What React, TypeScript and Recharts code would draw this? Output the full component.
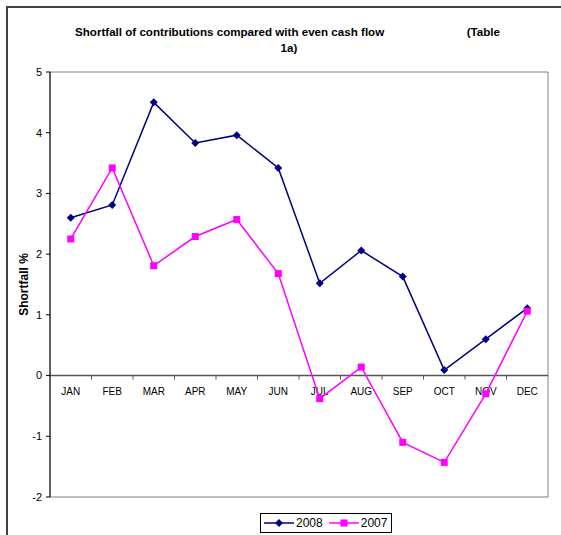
import { LineChart, Line, XAxis, YAxis, ReferenceLine, ReferenceArea } from 'recharts';

const months = ['JAN', 'FEB', 'MAR', 'APR', 'MAY', 'JUN', 'JUL', 'AUG', 'SEP', 'OCT', 'NOV', 'DEC'];
const shortfall2008 = [2.6, 2.81, 4.5, 3.83, 3.96, 3.42, 1.52, 2.06, 1.63, 0.09, 0.6, 1.11];
const shortfall2007 = [2.25, 3.42, 1.81, 2.29, 2.57, 1.68, -0.38, 0.14, -1.1, -1.43, -0.3, 1.06];
const yTicks = [-2, -1, 0, 1, 2, 3, 4, 5];

const FONT = '"Liberation Sans", Arial, sans-serif';
const NAVY = '#000080';
const MAGENTA = '#FF00FF';

const data = months.map((m, i) => ({
  month: m,
  y2008: shortfall2008[i],
  y2007: shortfall2007[i],
}));

function Diamond(props: any) {
  const { cx, cy } = props;
  if (cx == null || cy == null) return null;
  return (
    <path
      key={props.key ?? `d-${cx}`}
      d={`M${cx},${cy - 4}L${cx + 4},${cy}L${cx},${cy + 4}L${cx - 4},${cy}Z`}
      fill={NAVY}
    />
  );
}

function Square(props: any) {
  const { cx, cy } = props;
  if (cx == null || cy == null) return null;
  return <rect key={props.key ?? `s-${cx}`} x={cx - 3.5} y={cy - 3.5} width={7} height={7} fill={MAGENTA} />;
}

// zero line with the category ticks and month labels hanging under it
function ZeroAxis(props: any) {
  const { x1, x2, y1 } = props;
  const band = (x2 - x1) / months.length;
  return (
    <g>
      <line x1={x1} x2={x2} y1={y1} y2={y1} stroke="#555" strokeWidth={1.5} />
      {months.map((m, i) => (
        <g key={m}>
          {i > 0 && <line x1={x1 + i * band} x2={x1 + i * band} y1={y1} y2={y1 + 4} stroke="#555" />}
          <text
            x={x1 + (i + 0.5) * band}
            y={y1 + 16}
            dy="0.35em"
            textAnchor="middle"
            fontSize={10}
            fontFamily={FONT}
            fill="#000"
          >
            {m}
          </text>
        </g>
      ))}
    </g>
  );
}

function YLabel(props: any) {
  const { viewBox } = props;
  const x = viewBox.x + 4;
  const y = viewBox.y + viewBox.height / 2;
  return (
    <text
      x={x}
      y={y}
      transform={`rotate(-90, ${x}, ${y})`}
      textAnchor="middle"
      dominantBaseline="central"
      fontSize={12}
      fontWeight="bold"
      fontFamily={FONT}
      fill="#000"
    >
      Shortfall %
    </text>
  );
}

export default function App() {
  return (
    <div style={{ position: 'absolute', left: 0, top: 0, width: 561, height: 535, background: '#fff' }}>
      <div style={{ position: 'absolute', left: 0, top: 0 }}>
        <LineChart width={561} height={535} data={data} margin={{ top: 72, right: 13, bottom: 38, left: 20 }}>
          <ReferenceArea y1={-2} y2={5} stroke="#808080" fill="none" ifOverflow="visible" />
          <XAxis dataKey="month" scale="band" hide />
          <YAxis
            domain={[-2, 5]}
            ticks={yTicks}
            width={30}
            interval={0}
            axisLine={{ stroke: '#000' }}
            tickLine={{ stroke: '#000' }}
            tickSize={4}
            tickMargin={4}
            tick={{ fontSize: 11, fontFamily: FONT, fill: '#000' }}
            label={<YLabel />}
          />
          <ReferenceLine y={0} shape={<ZeroAxis />} />
          <Line
            dataKey="y2008"
            stroke={NAVY}
            strokeWidth={1.5}
            dot={<Diamond />}
            activeDot={false}
            isAnimationActive={false}
          />
          <Line
            dataKey="y2007"
            stroke={MAGENTA}
            strokeWidth={1.5}
            dot={<Square />}
            activeDot={false}
            isAnimationActive={false}
          />
        </LineChart>
      </div>
      <div
        style={{
          position: 'absolute',
          left: 6,
          top: 6,
          width: 555,
          height: 529,
          boxSizing: 'border-box',
          borderLeft: '2px solid #404040',
          borderTop: '2px solid #404040',
          pointerEvents: 'none',
        }}
      />
      <div
        style={{
          position: 'absolute',
          left: 75,
          top: 25,
          width: 425,
          display: 'flex',
          justifyContent: 'space-between',
          fontFamily: FONT,
          fontWeight: 'bold',
          fontSize: 11.6,
          lineHeight: '14px',
        }}
      >
        <span>Shortfall of contributions compared with even cash flow</span>
        <span>(Table</span>
      </div>
      <div
        style={{
          position: 'absolute',
          left: 239,
          top: 41,
          width: 100,
          textAlign: 'center',
          fontFamily: FONT,
          fontWeight: 'bold',
          fontSize: 11.6,
          lineHeight: '14px',
        }}
      >
        1a)
      </div>
      <div
        style={{
          position: 'absolute',
          left: 260,
          top: 513,
          width: 132,
          height: 20,
          boxSizing: 'border-box',
          border: '1px solid #000',
          display: 'flex',
          alignItems: 'center',
          fontFamily: FONT,
          fontSize: 12,
        }}
      >
        <svg width={32} height={10} style={{ marginLeft: 2 }}>
          <line x1={1} x2={31} y1={5} y2={5} stroke={NAVY} strokeWidth={1.5} />
          <path d="M16,1L20,5L16,9L12,5Z" fill={NAVY} />
        </svg>
        <span style={{ marginLeft: 1 }}>2008</span>
        <svg width={32} height={10} style={{ marginLeft: 5 }}>
          <line x1={1} x2={31} y1={5} y2={5} stroke={MAGENTA} strokeWidth={1.5} />
          <rect x={12.5} y={1.5} width={7} height={7} fill={MAGENTA} />
        </svg>
        <span style={{ marginLeft: 1 }}>2007</span>
      </div>
    </div>
  );
}
